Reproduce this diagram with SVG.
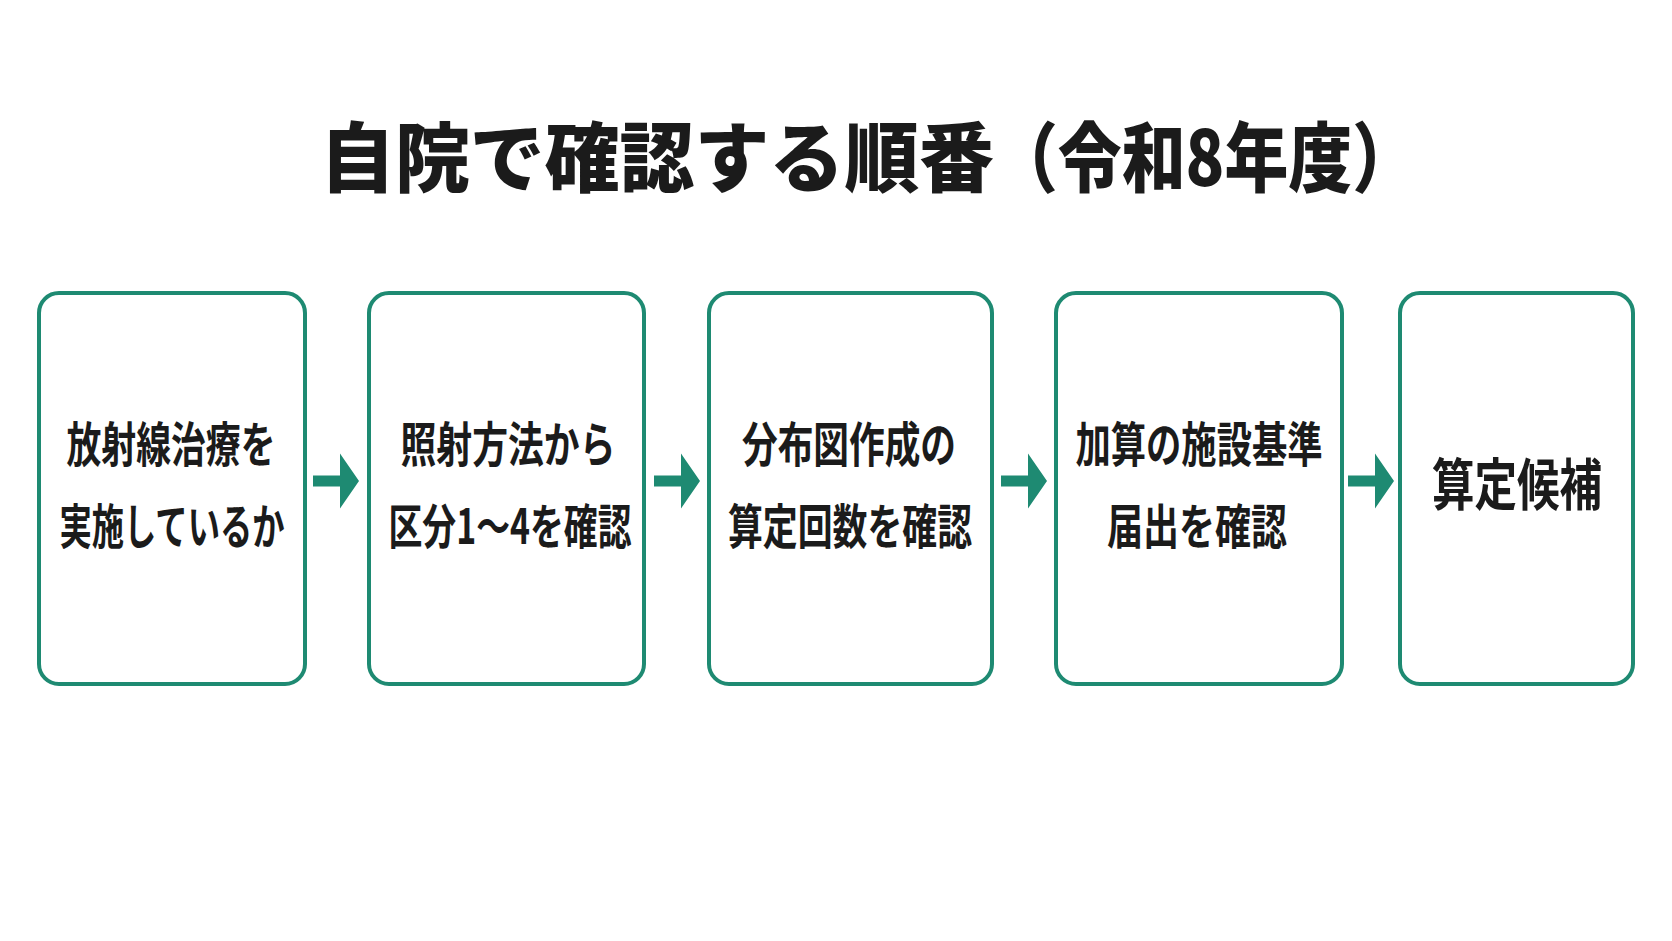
<svg xmlns="http://www.w3.org/2000/svg" xmlns:xlink="http://www.w3.org/1999/xlink" width="1672" height="941" viewBox="0 0 1672 941">
<style>
.box{fill:#ffffff;stroke:#1e8a72;stroke-width:4}
.t{font-family:"Noto Sans CJK JP","Noto Sans CJK SC",sans-serif;font-weight:700;fill:#1b1b1b;text-anchor:middle}
.ttl{font-size:76px;font-weight:900;text-anchor:start}
.lbl{font-size:48px}
.arrow{fill:#1e8a72}
</style>
<defs>
<path id="arr" d="M0,-5.5 H27 V-27.5 L46,0 L27,27.5 V5.5 H0 Z"/>
</defs>
<rect width="1672" height="941" fill="#ffffff"/>
<g id="title">
<text class="t ttl" x="320" y="186" textLength="674" lengthAdjust="spacingAndGlyphs">自院で確認する順番</text>
<text class="t ttl" x="994" y="186" textLength="422" lengthAdjust="spacingAndGlyphs">（令和8年度）</text>
</g>
<g id="node1">
<rect class="box" x="39" y="293" width="266" height="391" rx="20"/>
<text class="t lbl" x="171" y="462" textLength="209" lengthAdjust="spacingAndGlyphs">放射線治療を</text>
<text class="t lbl" x="172" y="544" textLength="225" lengthAdjust="spacingAndGlyphs">実施しているか</text>
</g>
<g id="node2">
<rect class="box" x="369" y="293" width="275" height="391" rx="20"/>
<text class="t lbl" x="508" y="462" textLength="215" lengthAdjust="spacingAndGlyphs">照射方法から</text>
<text class="t lbl" x="510" y="544" textLength="243" lengthAdjust="spacingAndGlyphs">区分1～4を確認</text>
</g>
<g id="node3">
<rect class="box" x="709" y="293" width="283" height="391" rx="20"/>
<text class="t lbl" x="849" y="462" textLength="214" lengthAdjust="spacingAndGlyphs">分布図作成の</text>
<text class="t lbl" x="850" y="544" textLength="244" lengthAdjust="spacingAndGlyphs">算定回数を確認</text>
</g>
<g id="node4">
<rect class="box" x="1056" y="293" width="286" height="391" rx="20"/>
<text class="t lbl" x="1199" y="462" textLength="247" lengthAdjust="spacingAndGlyphs">加算の施設基準</text>
<text class="t lbl" x="1197" y="544" textLength="180" lengthAdjust="spacingAndGlyphs">届出を確認</text>
</g>
<g id="node5">
<rect class="box" x="1400" y="293" width="233" height="391" rx="20"/>
<text class="t" x="1517" y="505" font-size="56" textLength="170" lengthAdjust="spacingAndGlyphs">算定候補</text>
</g>
<g id="connectors">
<use xlink:href="#arr" class="arrow" x="313" y="481"/>
<use xlink:href="#arr" class="arrow" x="654" y="481"/>
<use xlink:href="#arr" class="arrow" x="1001" y="481"/>
<use xlink:href="#arr" class="arrow" x="1348" y="481"/>
</g>
</svg>
